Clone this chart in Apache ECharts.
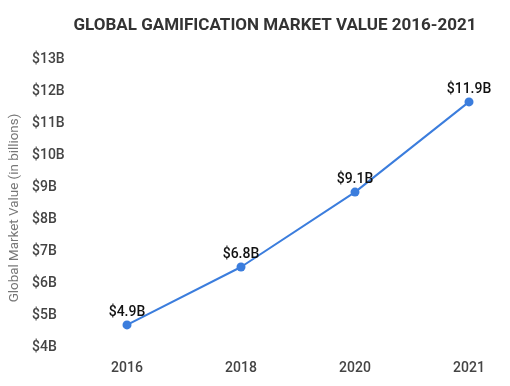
<!DOCTYPE html>
<html>
<head>
<meta charset="utf-8">
<script src="https://cdn.jsdelivr.net/npm/echarts@6/dist/echarts.min.js"></script>
<style>
html,body{margin:0;padding:0;background:#fff;}
#c{width:510px;height:386px;}
</style>
</head>
<body>
<div id="c"></div>
<script>
// Data
var years = ['2016', '2018', '2020', '2021'];
// positions of the points as drawn against the y axis (billions)
var plottedValues = [4.69, 6.5, 8.84, 11.66];
// value labels printed next to the points
var valueLabels = ['$4.9B', '$6.8B', '$9.1B', '$11.9B'];
var yMin = 4, yMax = 13, yStep = 1;

var chart = echarts.init(document.getElementById('c'));
chart.setOption({
  backgroundColor: '#ffffff',
  animation: false,
  title: {
    text: 'GLOBAL GAMIFICATION MARKET VALUE 2016-2021',
    left: 270, top: 12, textAlign: 'center',
    textStyle: { fontFamily: 'Roboto', fontWeight: 'bold', fontSize: 17, color: '#333333' }
  },
  grid: { left: 127, right: 41, top: 59, bottom: 39 },
  xAxis: {
    type: 'category',
    data: years,
    boundaryGap: false,
    axisLine: { show: false },
    axisTick: { show: false },
    splitLine: { show: false },
    axisLabel: { margin: 14, fontFamily: 'Roboto', fontSize: 14, fontWeight: 500, color: '#444444' }
  },
  yAxis: {
    type: 'value',
    min: yMin, max: yMax, interval: yStep,
    name: 'Global Market Value (in billions)',
    nameLocation: 'middle',
    nameGap: 102,
    nameRotate: 90,
    nameTextStyle: { fontFamily: 'Roboto', fontSize: 13.4, color: '#777777', padding: [0, 10, 0, 0] },
    axisLine: { show: false },
    axisTick: { show: false },
    splitLine: { show: false },
    axisLabel: {
      align: 'left', margin: 95,
      fontFamily: 'Roboto', fontSize: 14, fontWeight: 500, color: '#444444',
      formatter: function (v) { return '$' + v + 'B'; }
    }
  },
  series: [{
    type: 'line',
    data: plottedValues,
    symbol: 'circle',
    symbolSize: 9,
    lineStyle: { color: '#3b7ddd', width: 2 },
    itemStyle: { color: '#3b7ddd' },
    label: {
      show: true, position: 'top', distance: 1,
      fontFamily: 'Roboto', fontSize: 14, fontWeight: 500, color: '#111111',
      formatter: function (p) { return valueLabels[p.dataIndex]; }
    }
  }]
});
</script>
</body>
</html>
